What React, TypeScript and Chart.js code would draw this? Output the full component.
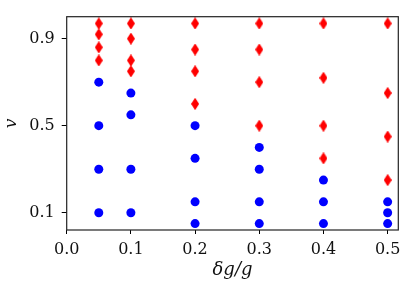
import React, { useEffect, useRef } from "react";
import { Chart, registerables } from "chart.js";

Chart.register(...registerables);

// Data
const redX = [0.05, 0.05, 0.05, 0.05, 0.1, 0.1, 0.1, 0.1, 0.2, 0.2, 0.2, 0.2, 0.3, 0.3, 0.3, 0.3, 0.4, 0.4, 0.4, 0.4, 0.5, 0.5, 0.5, 0.5];
const redY = [0.97, 0.92, 0.86, 0.8, 0.97, 0.9, 0.8, 0.75, 0.97, 0.85, 0.75, 0.6, 0.97, 0.85, 0.7, 0.5, 0.97, 0.72, 0.5, 0.35, 0.97, 0.65, 0.45, 0.25];
const blueX = [0.05, 0.05, 0.05, 0.05, 0.1, 0.1, 0.1, 0.1, 0.2, 0.2, 0.2, 0.2, 0.3, 0.3, 0.3, 0.3, 0.4, 0.4, 0.4, 0.5, 0.5, 0.5];
const blueY = [0.7, 0.5, 0.3, 0.1, 0.65, 0.55, 0.3, 0.1, 0.5, 0.35, 0.15, 0.05, 0.4, 0.3, 0.15, 0.05, 0.25, 0.15, 0.05, 0.15, 0.1, 0.05];
const xTicks = [0.0, 0.1, 0.2, 0.3, 0.4, 0.5];
const yTicks = [0.1, 0.5, 0.9];
const xLabel = "δg/g";
const yLabel = "v";

function makeDiamond(): HTMLCanvasElement {
  const c = document.createElement("canvas");
  c.width = 8;
  c.height = 12;
  const ctx = c.getContext("2d")!;
  ctx.fillStyle = "#ff0000";
  ctx.beginPath();
  ctx.moveTo(4, -0.2);
  ctx.lineTo(8, 6);
  ctx.lineTo(4, 12.2);
  ctx.lineTo(0, 6);
  ctx.closePath();
  ctx.fill();
  return c;
}

const frame = {
  id: "frame",
  afterDatasetsDraw(chart: any) {
    const { ctx, chartArea } = chart;
    ctx.save();
    ctx.strokeStyle = "#222";
    ctx.lineWidth = 1.2;
    ctx.strokeRect(chartArea.left, chartArea.top, chartArea.right - chartArea.left, chartArea.bottom - chartArea.top);
    ctx.restore();
  },
};

export default function App() {
  const ref = useRef<HTMLCanvasElement>(null);
  useEffect(() => {
    const diamond = makeDiamond();
    const font = "'DejaVu Serif', 'Liberation Serif', serif";
    const chart = new Chart(ref.current!, {
      type: "scatter",
      data: {
        datasets: [
          {
            label: "blue",
            data: blueX.map((x, i) => ({ x, y: blueY[i] })),
            backgroundColor: "#0000ff",
            borderWidth: 0,
            pointRadius: 4.5,
            pointStyle: "circle",
          },
          {
            label: "red",
            data: redX.map((x, i) => ({ x, y: redY[i] })),
            backgroundColor: "#ff0000",
            borderWidth: 0,
            pointStyle: diamond as any,
          },
        ],
      },
      options: {
        animation: false,
        responsive: false,
        devicePixelRatio: 1,
        layout: { padding: { top: 16.7, right: 16.7, left: 0, bottom: 0 } },
        plugins: { legend: { display: false }, tooltip: { enabled: false } },
        scales: {
          x: {
            type: "linear",
            min: 0,
            max: 0.5166,
            afterBuildTicks: (s: any) => {
              s.ticks = xTicks.map((v) => ({ value: v }));
            },
            afterFit: (s: any) => {
              s.height = 57;
            },
            border: { display: false },
            grid: { drawOnChartArea: false, drawTicks: true, tickLength: 4, color: "#000", tickWidth: 1 },
            ticks: {
              color: "#111",
              padding: 6,
              maxRotation: 0,
              font: { family: font, size: 16 },
              callback: (v: any) => Number(v).toFixed(1),
            },
            title: {
              display: true,
              text: xLabel,
              color: "#111",
              font: { family: font, size: 18, style: "italic", lineHeight: 1 },
              padding: { top: 0, bottom: 8 },
            },
          },
          y: {
            type: "linear",
            min: 0.0205,
            max: 1.001,
            afterBuildTicks: (s: any) => {
              s.ticks = yTicks.map((v) => ({ value: v }));
            },
            afterFit: (s: any) => {
              s.width = 66.7;
            },
            border: { display: false },
            grid: { drawOnChartArea: false, drawTicks: true, tickLength: 5, color: "#000", tickWidth: 1 },
            ticks: {
              color: "#111",
              padding: 7,
              font: { family: font, size: 16 },
              callback: (v: any) => Number(v).toFixed(1),
            },
            title: {
              display: true,
              text: yLabel,
              color: "#111",
              font: { family: font, size: 17, style: "italic", lineHeight: 1 },
              padding: { top: 3, bottom: 0 },
            },
          },
        },
      },
      plugins: [frame],
    });
    return () => chart.destroy();
  }, []);
  return (
    <div style={{ position: "fixed", left: 0, top: 0, width: 415, height: 287, background: "#fff" }}>
      <canvas ref={ref} width={415} height={287} style={{ display: "block" }} />
    </div>
  );
}
